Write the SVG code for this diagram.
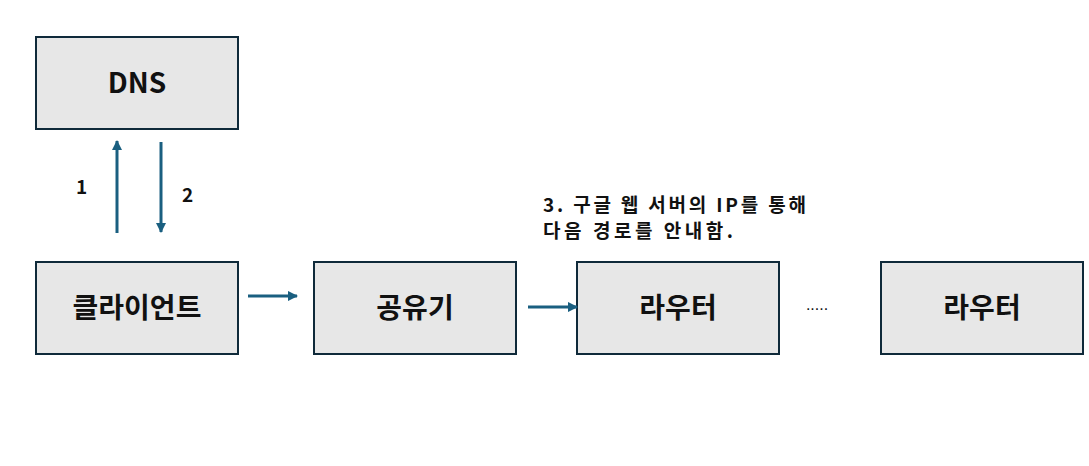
<svg xmlns="http://www.w3.org/2000/svg" width="1089" height="466" viewBox="0 0 1089 466">
<style>
.box{fill:#e7e7e7;stroke:#0f2a3a;stroke-width:2}
.lbl{font-family:"Noto Sans CJK KR","Noto Sans",sans-serif;font-weight:bold;font-size:28px;fill:#111;text-anchor:middle}
.sm{font-family:"Noto Sans CJK KR","Noto Sans",sans-serif;font-weight:bold;font-size:19px;fill:#111}
.ln{stroke:#1a5f80;stroke-width:3;fill:none}
</style>
<defs>
<marker id="ah" viewBox="0 0 10 10" refX="9" refY="5" markerWidth="3.5" markerHeight="3.5" orient="auto" markerUnits="strokeWidth">
<path d="M0,0 L10,5 L0,10 z" fill="#1a5f80"/>
</marker>
</defs>
<rect width="1089" height="466" fill="#fff"/>
<g id="dns"><rect class="box" x="36" y="37" width="202" height="92"/><text class="lbl" x="137" y="93">DNS</text></g>
<g id="client"><rect class="box" x="36" y="262" width="202" height="92"/><text class="lbl" x="137" y="318">클라이언트</text></g>
<g id="share"><rect class="box" x="314" y="262" width="202" height="92"/><text class="lbl" x="415" y="318">공유기</text></g>
<g id="router1"><rect class="box" x="577" y="262" width="202" height="92"/><text class="lbl" x="678" y="318">라우터</text></g>
<g id="router2"><rect class="box" x="881" y="262" width="202" height="92"/><text class="lbl" x="982" y="318">라우터</text></g>
<g id="connectors">
<line class="ln" x1="117" y1="233" x2="117" y2="141" marker-end="url(#ah)"/>
<line class="ln" x1="161" y1="142" x2="161" y2="232" marker-end="url(#ah)"/>
<line class="ln" x1="248" y1="296" x2="297" y2="296" marker-end="url(#ah)"/>
<line class="ln" x1="528" y1="307" x2="577" y2="307" marker-end="url(#ah)"/>
</g>
<text class="sm" x="76" y="194" font-size="17">1</text>
<text class="sm" x="182" y="202" font-size="17">2</text>
<text class="sm" x="543" y="212" textLength="263" lengthAdjust="spacing">3. 구글 웹 서버의 IP를 통해</text>
<text class="sm" x="543" y="238" textLength="190" lengthAdjust="spacing">다음 경로를 안내함.</text>
<text x="817" y="310" font-family="Liberation Sans,sans-serif" font-size="16" fill="#111" text-anchor="middle">.....</text>
</svg>
